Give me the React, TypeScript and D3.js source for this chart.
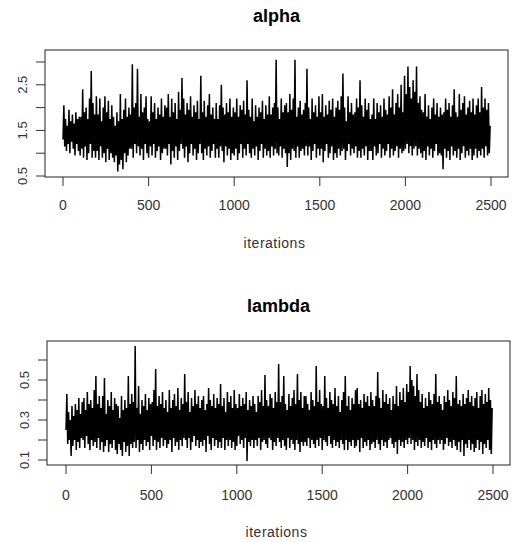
import * as d3 from "d3"

// trace values, one every 5 iterations
const alphaTrace = [
    1.3, 2.05, 1.15, 1.75, 1.05, 1.6, 1.2, 1.95, 1.0, 1.7, 1.25, 1.85, 1.1, 1.65, 0.95, 1.9, 1.2, 1.75, 1.05, 1.8,
    0.95, 1.8, 1.1, 2.4, 0.9, 1.9, 1.15, 2.0, 0.85, 1.75, 1.0, 2.2, 1.2, 2.8, 0.9, 2.1, 1.05, 1.85, 0.9, 2.25,
    1.05, 1.85, 0.85, 2.2, 1.15, 1.7, 0.9, 2.0, 1.0, 2.25, 0.8, 1.9, 1.1, 2.15, 0.85, 1.75, 1.0, 2.05, 0.9, 1.8,
    0.8, 1.6, 0.95, 1.9, 0.6, 1.7, 0.75, 2.3, 0.85, 1.75, 0.65, 1.95, 1.0, 2.2, 0.8, 1.8, 0.95, 2.0, 1.1, 1.85,
    1.1, 2.95, 0.9, 2.0, 1.2, 2.1, 1.0, 2.85, 1.15, 1.8, 0.95, 2.3, 1.1, 1.9, 0.85, 2.0, 1.2, 2.25, 1.0, 1.75,
    0.9, 1.7, 1.15, 2.25, 0.95, 1.9, 1.2, 2.1, 0.9, 1.75, 1.05, 2.0, 1.15, 1.85, 0.85, 2.2, 1.0, 1.8, 1.1, 2.05,
    1.1, 2.0, 0.95, 2.3, 1.2, 1.8, 0.75, 2.2, 1.05, 1.9, 0.9, 2.1, 1.15, 1.75, 0.85, 2.35, 1.05, 1.95, 1.2, 2.65,
    1.1, 2.2, 0.9, 1.85, 1.15, 2.1, 0.8, 1.95, 1.0, 2.25, 1.2, 1.8, 0.95, 2.05, 1.1, 1.9, 0.85, 2.15, 1.0, 1.75,
    1.2, 2.7, 1.0, 1.9, 0.85, 2.15, 1.1, 1.8, 0.95, 2.05, 1.15, 2.3, 0.9, 1.85, 1.05, 2.0, 1.2, 1.75, 0.9, 2.1,
    1.1, 1.75, 0.9, 2.05, 1.15, 2.5, 1.05, 2.0, 0.8, 1.85, 1.15, 2.1, 0.95, 1.9, 1.1, 2.2, 0.85, 1.8, 1.0, 2.0,
    0.95, 1.9, 1.1, 2.2, 0.85, 1.8, 1.0, 2.05, 1.2, 1.95, 0.9, 2.15, 1.1, 1.85, 0.95, 2.6, 1.2, 1.95, 1.0, 1.8,
    0.9, 2.2, 1.1, 1.7, 0.95, 2.05, 1.15, 1.8, 0.85, 2.0, 1.05, 1.9, 1.2, 2.15, 0.9, 1.75, 1.1, 2.05, 0.95, 1.85,
    1.05, 2.25, 0.9, 1.85, 1.15, 2.0, 0.95, 2.1, 1.1, 3.05, 1.0, 2.0, 0.95, 1.75, 1.15, 2.2, 0.9, 1.9, 1.1, 2.05,
    1.0, 2.1, 0.7, 1.9, 1.0, 2.3, 0.85, 1.95, 1.1, 2.2, 1.05, 3.05, 0.9, 1.8, 1.15, 2.0, 0.9, 2.15, 1.05, 1.85,
    1.1, 1.95, 0.95, 2.1, 1.15, 2.85, 0.95, 2.0, 1.15, 1.75, 0.85, 2.2, 1.05, 1.9, 1.2, 2.05, 0.9, 1.8, 1.1, 2.25,
    0.95, 1.9, 1.1, 2.3, 0.8, 1.8, 1.05, 2.05, 1.2, 1.85, 0.9, 2.15, 1.0, 1.95, 1.15, 2.2, 0.85, 1.8, 1.0, 2.0,
    0.9, 2.15, 1.1, 1.95, 0.95, 2.25, 1.05, 2.75, 1.1, 2.0, 0.85, 1.7, 1.05, 2.25, 1.2, 1.9, 0.95, 2.1, 1.1, 1.85,
    1.0, 1.9, 1.15, 2.2, 0.9, 2.0, 1.05, 2.6, 0.9, 2.05, 1.1, 1.8, 0.95, 2.2, 1.15, 1.95, 0.85, 2.1, 1.05, 1.75,
    1.05, 1.85, 0.85, 2.2, 1.15, 1.75, 0.95, 2.1, 1.0, 1.9, 1.2, 2.05, 0.9, 1.8, 1.1, 2.2, 0.95, 1.95, 1.05, 1.85,
    1.2, 2.25, 0.9, 2.0, 1.1, 2.4, 0.95, 1.85, 1.05, 2.1, 1.15, 2.3, 0.9, 2.0, 1.1, 2.5, 1.0, 1.9, 1.05, 2.7,
    1.1, 2.3, 1.2, 2.9, 1.0, 2.45, 1.15, 2.2, 0.95, 2.6, 1.1, 2.35, 1.15, 2.9, 0.95, 2.1, 1.1, 2.25, 1.0, 1.95,
    0.9, 1.9, 1.05, 2.3, 0.85, 1.8, 1.15, 2.05, 0.95, 1.75, 1.1, 2.0, 0.9, 2.2, 1.05, 1.85, 1.2, 2.1, 0.95, 1.8,
    1.0, 2.0, 0.95, 1.85, 0.65, 1.9, 1.1, 2.2, 0.9, 1.95, 1.05, 2.1, 0.85, 1.8, 1.15, 2.05, 0.95, 2.4, 1.05, 1.9,
    0.9, 1.8, 1.1, 2.3, 0.85, 1.95, 1.0, 2.1, 1.15, 2.25, 0.9, 1.85, 1.05, 2.0, 0.95, 2.15, 1.1, 1.9, 0.85, 2.2,
    0.95, 1.85, 1.1, 2.05, 0.9, 2.2, 1.05, 1.9, 0.95, 2.45, 1.1, 2.0, 0.9, 2.2, 1.15, 1.95, 0.95, 2.1, 1.0, 1.6,
]

const lambdaTrace = [
    0.25, 0.43, 0.18, 0.34, 0.2, 0.3, 0.12, 0.37, 0.17, 0.32, 0.2, 0.38, 0.15, 0.35, 0.19, 0.41, 0.16, 0.33, 0.21, 0.39,
    0.2, 0.41, 0.16, 0.35, 0.22, 0.44, 0.18, 0.38, 0.15, 0.4, 0.2, 0.36, 0.17, 0.45, 0.19, 0.52, 0.16, 0.38, 0.21, 0.42,
    0.15, 0.36, 0.19, 0.42, 0.14, 0.51, 0.17, 0.33, 0.2, 0.4, 0.14, 0.37, 0.18, 0.44, 0.16, 0.35, 0.2, 0.41, 0.15, 0.38,
    0.13, 0.37, 0.18, 0.31, 0.15, 0.42, 0.12, 0.35, 0.19, 0.4, 0.14, 0.36, 0.17, 0.52, 0.12, 0.38, 0.18, 0.43, 0.16, 0.39,
    0.19, 0.67, 0.16, 0.36, 0.2, 0.47, 0.14, 0.33, 0.18, 0.4, 0.15, 0.37, 0.2, 0.43, 0.17, 0.35, 0.19, 0.41, 0.15, 0.38,
    0.22, 0.39, 0.17, 0.45, 0.2, 0.555, 0.15, 0.37, 0.19, 0.42, 0.16, 0.38, 0.21, 0.44, 0.17, 0.36, 0.2, 0.4, 0.16, 0.34,
    0.18, 0.45, 0.2, 0.36, 0.14, 0.4, 0.21, 0.43, 0.17, 0.37, 0.19, 0.46, 0.15, 0.35, 0.2, 0.41, 0.17, 0.38, 0.21, 0.53,
    0.2, 0.39, 0.16, 0.44, 0.21, 0.34, 0.15, 0.41, 0.19, 0.37, 0.22, 0.45, 0.17, 0.38, 0.2, 0.42, 0.16, 0.36, 0.19, 0.4,
    0.17, 0.42, 0.2, 0.35, 0.14, 0.38, 0.22, 0.46, 0.18, 0.4, 0.15, 0.37, 0.21, 0.43, 0.17, 0.36, 0.2, 0.41, 0.16, 0.38,
    0.19, 0.48, 0.16, 0.37, 0.21, 0.41, 0.15, 0.34, 0.2, 0.44, 0.17, 0.39, 0.2, 0.42, 0.16, 0.36, 0.19, 0.45, 0.15, 0.38,
    0.17, 0.36, 0.22, 0.43, 0.18, 0.37, 0.2, 0.41, 0.16, 0.38, 0.21, 0.44, 0.095, 0.35, 0.19, 0.4, 0.17, 0.37, 0.2, 0.42,
    0.16, 0.38, 0.2, 0.34, 0.17, 0.42, 0.21, 0.39, 0.15, 0.45, 0.19, 0.37, 0.2, 0.525, 0.18, 0.4, 0.16, 0.37, 0.21, 0.43,
    0.2, 0.41, 0.15, 0.36, 0.19, 0.44, 0.17, 0.39, 0.21, 0.58, 0.19, 0.39, 0.16, 0.42, 0.2, 0.52, 0.17, 0.38, 0.15, 0.35,
    0.21, 0.43, 0.16, 0.37, 0.2, 0.41, 0.18, 0.45, 0.15, 0.38, 0.2, 0.53, 0.18, 0.4, 0.14, 0.44, 0.19, 0.36, 0.17, 0.42,
    0.19, 0.42, 0.17, 0.38, 0.21, 0.35, 0.16, 0.44, 0.2, 0.4, 0.18, 0.37, 0.16, 0.57, 0.2, 0.39, 0.17, 0.45, 0.21, 0.38,
    0.15, 0.37, 0.2, 0.52, 0.19, 0.41, 0.17, 0.36, 0.22, 0.44, 0.18, 0.4, 0.16, 0.38, 0.2, 0.46, 0.17, 0.37, 0.19, 0.42,
    0.16, 0.34, 0.2, 0.4, 0.18, 0.44, 0.15, 0.52, 0.2, 0.37, 0.15, 0.42, 0.19, 0.35, 0.17, 0.41, 0.2, 0.38, 0.16, 0.45,
    0.17, 0.46, 0.2, 0.38, 0.14, 0.4, 0.21, 0.36, 0.16, 0.43, 0.19, 0.39, 0.17, 0.42, 0.2, 0.37, 0.15, 0.44, 0.18, 0.4,
    0.19, 0.37, 0.16, 0.42, 0.2, 0.54, 0.18, 0.41, 0.15, 0.36, 0.2, 0.45, 0.17, 0.39, 0.19, 0.43, 0.16, 0.38, 0.2, 0.41,
    0.21, 0.35, 0.18, 0.42, 0.16, 0.38, 0.19, 0.47, 0.13, 0.37, 0.2, 0.44, 0.17, 0.4, 0.19, 0.46, 0.16, 0.39, 0.2, 0.48,
    0.18, 0.44, 0.21, 0.57, 0.18, 0.5, 0.2, 0.47, 0.15, 0.42, 0.19, 0.53, 0.17, 0.45, 0.2, 0.39, 0.16, 0.43, 0.19, 0.36,
    0.17, 0.41, 0.21, 0.37, 0.16, 0.44, 0.19, 0.4, 0.15, 0.38, 0.2, 0.43, 0.18, 0.53, 0.16, 0.39, 0.2, 0.42, 0.18, 0.38,
    0.2, 0.35, 0.15, 0.42, 0.18, 0.39, 0.21, 0.45, 0.17, 0.4, 0.19, 0.37, 0.16, 0.44, 0.2, 0.41, 0.17, 0.52, 0.15, 0.38,
    0.19, 0.4, 0.14, 0.37, 0.2, 0.43, 0.12, 0.38, 0.18, 0.41, 0.16, 0.45, 0.2, 0.39, 0.15, 0.42, 0.18, 0.37, 0.14, 0.41,
    0.16, 0.44, 0.2, 0.36, 0.15, 0.42, 0.19, 0.45, 0.13, 0.38, 0.18, 0.43, 0.16, 0.39, 0.2, 0.46, 0.15, 0.4, 0.13, 0.36,
]

const iterStep = 5
const xTicks = [0, 500, 1000, 1500, 2000, 2500]
const alphaTicks = [0.5, 1, 1.5, 2, 2.5, 3]
const alphaLabels = [0.5, 1.5, 2.5]
const lambdaTicks = [0.1, 0.2, 0.3, 0.4, 0.5, 0.6]
const lambdaLabels = [0.1, 0.3, 0.5]

const font = "'Liberation Sans', Arial, sans-serif"

function TracePanel({ title, values, yDomain, yRange, yTicks, yLabels, box, xRange, titleY, tickLabelY, xlabY }) {
    const x = d3.scaleLinear().domain([0, 2500]).range(xRange)
    const y = d3.scaleLinear().domain(yDomain).range(yRange)

    const path =
        d3
            .line<number>()
            .x((_, i) => x(i * iterStep))
            .y((d) => y(d))(values) || ""

    const midX = (box.left + box.right) / 2

    return (
        <g>
            <text x={midX} y={titleY} textAnchor="middle" fontFamily={font} fontWeight="bold" fontSize="18">
                {title}
            </text>

            <path d={path} fill="none" stroke="#000" strokeWidth="1.5" strokeLinejoin="bevel" />

            <rect
                x={box.left}
                y={box.top}
                width={box.right - box.left}
                height={box.bottom - box.top}
                fill="none"
                stroke="#222"
            />

            {/* left axis */}
            {yTicks.map((t) => (
                <line key={t} x1={box.left - 9} x2={box.left} y1={y(t)} y2={y(t)} stroke="#333" />
            ))}
            {yLabels.map((t) => (
                <text
                    key={t}
                    transform={`translate(${box.left - 18},${y(t)}) rotate(-90)`}
                    textAnchor="middle"
                    fontFamily={font}
                    fontSize="13"
                    fill="#333"
                >
                    {t.toFixed(1)}
                </text>
            ))}

            {/* bottom axis */}
            {xTicks.map((t) => (
                <g key={t}>
                    <line x1={x(t)} x2={x(t)} y1={box.bottom} y2={box.bottom + 9} stroke="#333" />
                    <text x={x(t)} y={tickLabelY} textAnchor="middle" fontFamily={font} fontSize="14" fill="#333">
                        {t}
                    </text>
                </g>
            ))}
            <text x={midX - 2} y={xlabY} textAnchor="middle" fontFamily={font} fontSize="14" fill="#333" letterSpacing="0.5">
                iterations
            </text>
        </g>
    )
}

export default function App() {
    return (
        <svg
            width={517}
            height={542}
            viewBox="0 0 517 542"
            style={{ position: "absolute", left: 0, top: 0, background: "#fff" }}
        >
            <TracePanel
                title="alpha"
                values={alphaTrace}
                yDomain={[0.5, 3]}
                yRange={[176, 62]}
                yTicks={alphaTicks}
                yLabels={alphaLabels}
                box={{ left: 45, right: 508, top: 50, bottom: 177 }}
                xRange={[63, 491]}
                titleY={22}
                tickLabelY={210}
                xlabY={248}
            />
            <TracePanel
                title="lambda"
                values={lambdaTrace}
                yDomain={[0.1, 0.6]}
                yRange={[460, 360]}
                yTicks={lambdaTicks}
                yLabels={lambdaLabels}
                box={{ left: 47, right: 510, top: 341, bottom: 465 }}
                xRange={[66, 493]}
                titleY={312}
                tickLabelY={500}
                xlabY={537}
            />
        </svg>
    )
}
